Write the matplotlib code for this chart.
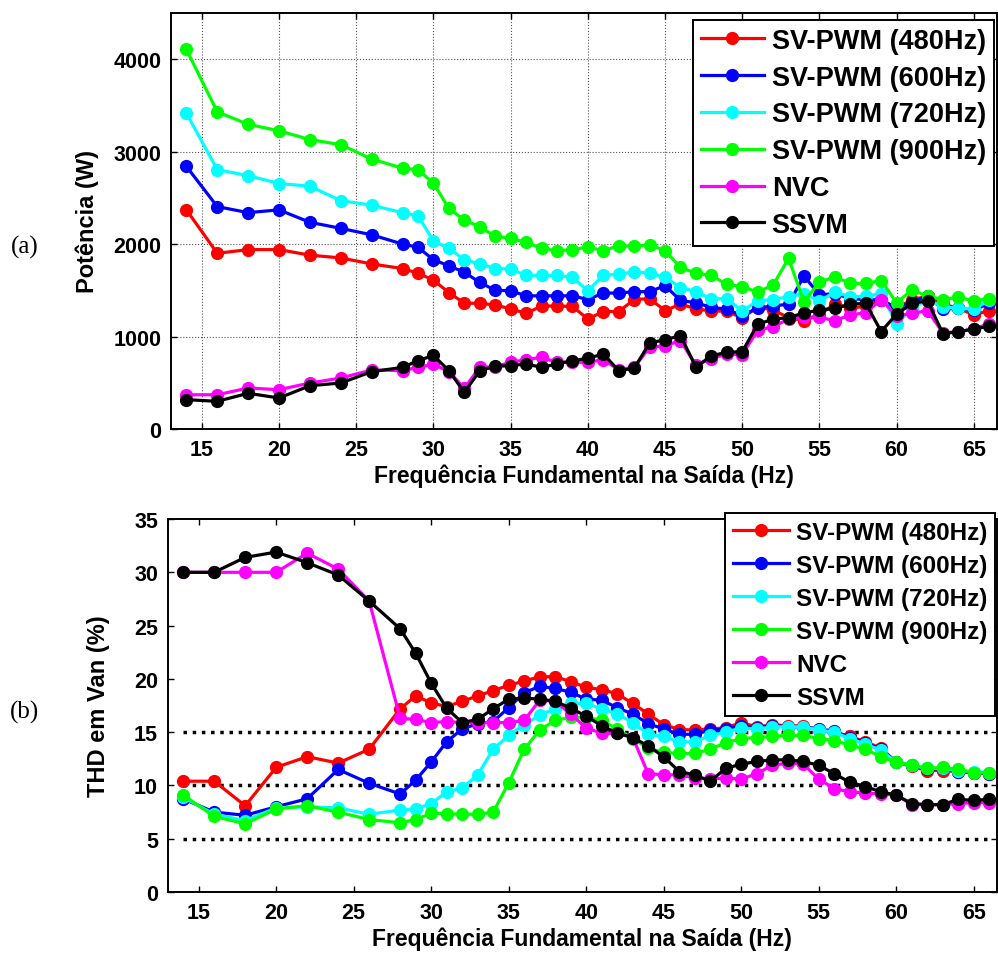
import matplotlib
matplotlib.use("Agg")
import matplotlib.pyplot as plt

plt.rcParams['font.family'] = ['Liberation Sans', 'DejaVu Sans']
plt.rcParams['font.weight'] = 'bold'
plt.rcParams['axes.labelweight'] = 'bold'

# Fundamental output frequency (Hz)
freq = [14, 16, 18, 20, 22, 24, 26, 28, 29, 30, 31, 32, 33, 34, 35, 36, 37, 38,
        39, 40, 41, 42, 43, 44, 45, 46, 47, 48, 49, 50, 51, 52, 53, 54, 55, 56,
        57, 58, 59, 60, 61, 62, 63, 64, 65, 66]

labels = ['SV-PWM (480Hz)', 'SV-PWM (600Hz)', 'SV-PWM (720Hz)',
          'SV-PWM (900Hz)', 'NVC', 'SSVM']
colors = ['#ff0000', '#0000ff', '#00ffff', '#00ff00', '#ff00ff', '#000000']

# (a) power (W)
p_480 = [2370, 1900, 1940, 1940, 1880, 1850, 1785, 1735, 1685, 1610, 1475, 1360,
         1360, 1340, 1300, 1250, 1330, 1330, 1325, 1190, 1270, 1270, 1400, 1410,
         1280, 1350, 1300, 1275, 1275, 1200, 1320, 1285, 1205, 1170, 1235, 1355,
         1305, 1330, 1400, 1305, 1400, 1435, 1350, 1305, 1235, 1280]
p_600 = [2840, 2405, 2340, 2370, 2235, 2170, 2100, 2000, 1965, 1830, 1765, 1695,
         1585, 1500, 1495, 1440, 1440, 1440, 1440, 1400, 1470, 1470, 1485, 1485,
         1550, 1390, 1365, 1315, 1295, 1225, 1310, 1330, 1350, 1655, 1450, 1465,
         1410, 1400, 1395, 1305, 1375, 1435, 1295, 1305, 1285, 1360]
p_720 = [3415, 2805, 2740, 2655, 2625, 2470, 2420, 2340, 2305, 2035, 1955, 1830,
         1785, 1735, 1730, 1660, 1660, 1660, 1640, 1495, 1660, 1675, 1700, 1685,
         1640, 1530, 1485, 1405, 1410, 1275, 1385, 1400, 1430, 1465, 1385, 1480,
         1430, 1435, 1465, 1140, 1305, 1400, 1320, 1305, 1295, 1395]
p_900 = [4105, 3430, 3295, 3225, 3130, 3075, 2920, 2820, 2805, 2658, 2386, 2259,
         2187, 2083, 2065, 2018, 1953, 1928, 1939, 1968, 1928, 1982, 1975, 1993,
         1928, 1748, 1683, 1660, 1564, 1539, 1481, 1557, 1845, 1375, 1590, 1645,
         1575, 1575, 1605, 1365, 1505, 1435, 1400, 1425, 1385, 1410]
p_nvc = [370, 370, 443, 425, 497, 551, 638, 631, 666, 700, 620, 440,
         667, 674, 721, 749, 775, 721, 721, 721, 749, 641, 667, 883,
         901, 955, 690, 762, 810, 805, 1068, 1108, 1187, 1215, 1208, 1172,
         1233, 1258, 1400, 1222, 1251, 1279, 1040, 1050, 1086, 1136]
p_ssvm = [317, 299, 386, 335, 468, 497, 620, 666, 739, 795, 631, 396,
          631, 678, 685, 703, 667, 703, 739, 764, 811, 631, 656, 930,
          966, 1009, 670, 791, 830, 835, 1133, 1187, 1205, 1255, 1286, 1304,
          1351, 1358, 1054, 1243, 1358, 1386, 1029, 1054, 1079, 1115]

# (b) THD of Van (%)
t_480 = [10.4, 10.4, 8.1, 11.7, 12.7, 12.1, 13.4, 17.2, 18.4, 17.75, 17.4, 17.9,
         18.4, 18.9, 19.4, 19.8, 20.2, 20.2, 19.75, 19.2, 19.0, 18.6, 17.7, 16.7,
         15.7, 15.25, 15.2, 15.3, 15.4, 15.9, 15.5, 15.7, 15.6, 15.6, 15.2, 15.0,
         14.6, 14.1, 13.5, 12.2, 11.8, 11.4, 11.4, 11.3, 11.2, 11.1]
t_600 = [8.75, 7.5, 7.2, 8.0, 8.75, 11.5, 10.2, 9.2, 10.5, 12.2, 14.1, 15.3,
         15.8, 16.0, 17.3, 18.7, 19.3, 19.1, 18.75, 18.1, 18.0, 17.3, 16.7, 15.8,
         15.3, 14.8, 14.8, 15.2, 15.3, 15.6, 15.4, 15.6, 15.5, 15.5, 15.3, 15.1,
         14.5, 14.0, 13.4, 12.2, 11.9, 11.5, 11.6, 11.3, 11.2, 11.1]
t_720 = [8.9, 7.3, 6.7, 7.9, 8.0, 7.9, 7.3, 7.7, 7.8, 8.3, 9.4, 9.75,
         11.0, 13.4, 14.7, 15.7, 16.6, 17.2, 17.7, 17.7, 17.2, 16.7, 15.9, 14.8,
         14.6, 14.1, 14.1, 14.7, 15.0, 15.4, 15.3, 15.5, 15.5, 15.5, 15.2, 15.0,
         14.4, 13.9, 13.3, 12.2, 11.9, 11.6, 11.6, 11.4, 11.3, 11.2]
t_900 = [9.1, 7.1, 6.4, 7.8, 8.1, 7.5, 6.8, 6.5, 6.8, 7.4, 7.35, 7.3,
         7.3, 7.5, 10.25, 13.4, 15.2, 16.1, 16.4, 16.4, 16.1, 15.3, 14.4, 13.5,
         13.1, 13.0, 13.0, 13.4, 14.0, 14.4, 14.5, 14.6, 14.7, 14.7, 14.4, 14.2,
         13.8, 13.4, 12.7, 12.2, 11.9, 11.6, 11.7, 11.5, 11.2, 11.2]
t_nvc = [30, 30, 30, 30, 31.8, 30.3, 27.3, 16.3, 16.2, 15.9, 16.0, 15.9,
         15.9, 15.9, 15.9, 16.1, 18.0, 17.9, 16.7, 15.4, 14.9, 14.9, 14.5, 11.1,
         11.0, 11.0, 10.7, 10.6, 10.7, 10.6, 11.1, 11.9, 12.1, 12.0, 10.6, 9.7,
         9.4, 9.3, 9.2, 9.1, 8.2, 8.2, 8.2, 8.3, 8.4, 8.4]
t_ssvm = [30, 30, 31.4, 31.9, 30.9, 29.75, 27.3, 24.7, 22.4, 19.6, 17.25, 15.9,
          16.2, 17.2, 18.1, 18.2, 18.1, 17.9, 17.25, 16.5, 15.6, 14.9, 14.5, 13.7,
          12.7, 11.3, 11.0, 10.4, 11.6, 12.0, 12.25, 12.4, 12.4, 12.25, 11.9, 11.1,
          10.3, 9.9, 9.4, 9.1, 8.3, 8.2, 8.2, 8.7, 8.6, 8.7]

thd_levels = [5, 10, 15]

power = [p_480, p_600, p_720, p_900, p_nvc, p_ssvm]
thd = [t_480, t_600, t_720, t_900, t_nvc, t_ssvm]

fig = plt.figure(figsize=(9.98, 9.54), dpi=100)
ax1 = fig.add_axes([0.1713, 0.5493, 0.8277, 0.4361])
ax2 = fig.add_axes([0.1680, 0.0639, 0.8310, 0.3910])

lw = 2.3
ms = 8.5


def style_axis(ax):
    ax.set_xlim(13, 66.5)
    ax.set_xticks([15, 20, 25, 30, 35, 40, 45, 50, 55, 60, 65])
    ax.tick_params(direction='in', top=True, right=True, length=4, width=1,
                   labelsize=15.5, pad=7)
    for s in ax.spines.values():
        s.set_linewidth(1.4)
    ax.set_xlabel('Frequência Fundamental na Saída (Hz)', fontsize=16.5, labelpad=3)


# top panel: power
for y, lab, c in zip(power, labels, colors):
    ax1.plot(freq, y, '-o', color=c, lw=lw, ms=ms, label=lab)
style_axis(ax1)
ax1.set_ylim(0, 4500)
ax1.set_yticks([0, 1000, 2000, 3000, 4000])
ax1.grid(True, linestyle=':', color='#555555', linewidth=0.8)
ax1.set_axisbelow(True)
ax1.set_ylabel('Potência (W)', fontsize=17, labelpad=10)
leg1 = ax1.legend(loc='upper right', bbox_to_anchor=(1.003, 0.997), fontsize=19.5,
                  handlelength=2.3, handletextpad=0.3, labelspacing=0.40,
                  borderpad=0.3, fancybox=False, framealpha=1, edgecolor='black',
                  borderaxespad=0.2)
leg1.get_frame().set_linewidth(1.4)

# bottom panel: THD
ax2.hlines(thd_levels, freq[0], freq[-1], colors='black', linestyles=':', lw=2.5)
for y, lab, c in zip(thd, labels, colors):
    ax2.plot(freq, y, '-o', color=c, lw=lw, ms=ms, label=lab)
style_axis(ax2)
ax2.set_ylim(0, 35)
ax2.set_yticks([0, 5, 10, 15, 20, 25, 30, 35])
ax2.set_ylabel('THD em Van (%)', fontsize=17, labelpad=17)
leg2 = ax2.legend(loc='upper right', bbox_to_anchor=(1.003, 1.028), fontsize=17.5,
                  handlelength=2.3, handletextpad=0.3, labelspacing=0.41,
                  borderpad=0.3, fancybox=False, framealpha=1, edgecolor='black',
                  borderaxespad=0.2)
leg2.get_frame().set_linewidth(1.4)

fig.text(0.025, 1 - 247 / 954, '(a)', family='Liberation Serif', fontweight='normal',
         fontsize=18, va='center', ha='center')
fig.text(0.025, 1 - 712 / 954, '(b)', family='Liberation Serif', fontweight='normal',
         fontsize=18, va='center', ha='center')

fig.savefig('out.png', dpi=100)
